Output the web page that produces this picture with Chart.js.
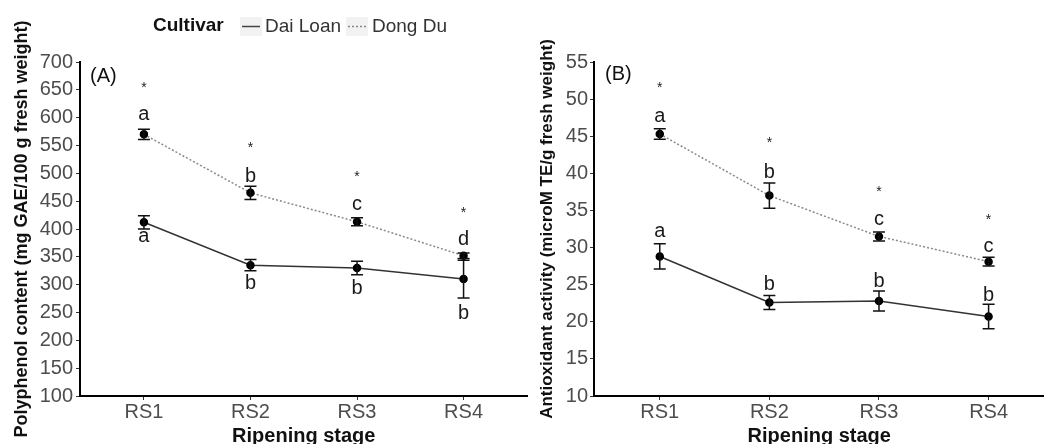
<!DOCTYPE html>
<html><head><meta charset="utf-8">
<script src="https://cdn.jsdelivr.net/npm/chart.js@4"></script>
<style>
body{margin:0;background:#fff;width:1044px;height:444px;overflow:hidden;position:relative}
#wa{position:absolute;left:0;top:0;width:533px;height:444px}
#wb{position:absolute;left:527px;top:0;width:523px;height:444px}
</style></head><body>
<div id="wa"><canvas id="ca" width="533" height="444"></canvas></div>
<div id="wb"><canvas id="cb" width="523" height="444"></canvas></div>
<script>
// ---- data ----
const stages = ['RS1','RS2','RS3','RS4'];
const seriesNames = ['Dai Loan','Dong Du'];

// Panel A: polyphenol content
const polyTicks = [100,150,200,250,300,350,400,450,500,550,600,650,700];
const polyDaiLoan = [412, 335, 330, 310];
const polyDaiLoanErr = [12, 10, 12, 34];
const polyDongDu = [570, 465, 413, 352];
const polyDongDuErr = [9, 12, 7, 5];
const polyStars = [662, 554, 501, 437];
const polyDongDuLetters = ['a','b','c','d'];
const polyDongDuLetterY = [605, 497, 443, 384];
const polyDaiLoanLetters = ['a','b','b','b'];
const polyDaiLoanLetterY = [386, 305, 296, 252];

// Panel B: antioxidant activity
const antiTicks = [10,15,20,25,30,35,40,45,50,55];
const antiDaiLoan = [28.8, 22.6, 22.8, 20.7];
const antiDaiLoanErr = [1.7, 0.95, 1.35, 1.65];
const antiDongDu = [45.3, 37.0, 31.5, 28.1];
const antiDongDuErr = [0.7, 1.7, 0.6, 0.6];
const antiStars = [52.1, 44.7, 38.1, 34.4];
const antiDongDuLetters = ['a','b','c','c'];
const antiDongDuLetterY = [47.6, 40.4, 33.7, 30.1];
const antiDaiLoanLetters = ['a','b','b','b'];
const antiDaiLoanLetterY = [32.1, 25.2, 25.6, 23.8];

// ---- drawing ----
const FAM = '"Liberation Sans", Arial, sans-serif';
const toXY = arr => arr.map((v,i)=>({x:i+1, y:v}));

function annotPlugin(p){
  return {
    id:'annot'+p.label,
    afterDatasetsDraw(chart){
      const ctx = chart.ctx, xs = chart.scales.x, ys = chart.scales.y;
      ctx.save();
      // error bars
      ctx.strokeStyle = '#111'; ctx.lineWidth = 1.5;
      [[p.dl,p.dlErr],[p.dd,p.ddErr]].forEach(([vals,errs])=>{
        vals.forEach((v,i)=>{
          const x = xs.getPixelForValue(i+1);
          const y1 = ys.getPixelForValue(v+errs[i]), y2 = ys.getPixelForValue(v-errs[i]);
          ctx.beginPath();
          ctx.moveTo(x,y1); ctx.lineTo(x,y2);
          ctx.moveTo(x-6,y1); ctx.lineTo(x+6,y1);
          ctx.moveTo(x-6,y2); ctx.lineTo(x+6,y2);
          ctx.stroke();
        });
      });
      // letters
      const LF = 20;
      ctx.fillStyle = '#1a1a1a'; ctx.textAlign='center'; ctx.textBaseline='alphabetic';
      ctx.font = LF+'px '+FAM;
      const drawLetters = (letters, ys_) => letters.forEach((L,i)=>{
        const x = xs.getPixelForValue(i+1);
        const off = (L==='b'||L==='d') ? 0.36*LF : 0.26*LF;
        ctx.fillText(L, x, ys.getPixelForValue(ys_[i]) + off);
      });
      drawLetters(p.ddL, p.ddLY);
      drawLetters(p.dlL, p.dlLY);
      // stars
      ctx.font = '14px '+FAM; ctx.fillStyle='#222';
      p.stars.forEach((v,i)=>{
        ctx.fillText('*', xs.getPixelForValue(i+1), ys.getPixelForValue(v) + 0.62*14);
      });
      // panel label
      ctx.font = '20px '+FAM; ctx.fillStyle='#111'; ctx.textAlign='left'; ctx.textBaseline='middle';
      ctx.fillText(p.label, chart.chartArea.left + p.labelDx, p.labelY);
      // legend
      if (p.legend){
        ctx.textBaseline='middle';
        ctx.font = 'bold 19px '+FAM; ctx.fillStyle='#111';
        ctx.fillText('Cultivar', 153, 26);
        ctx.fillStyle='#f2f2f2';
        ctx.fillRect(240,17,22,19); ctx.fillRect(346,17,22,19);
        ctx.lineWidth=1.5;
        ctx.strokeStyle='#444'; ctx.setLineDash([]);
        ctx.beginPath(); ctx.moveTo(242,26.5); ctx.lineTo(260,26.5); ctx.stroke();
        ctx.strokeStyle='#888'; ctx.setLineDash([2,2]);
        ctx.beginPath(); ctx.moveTo(348,26.5); ctx.lineTo(366,26.5); ctx.stroke();
        ctx.setLineDash([]);
        ctx.font = '19px '+FAM; ctx.fillStyle='#333';
        ctx.fillText(seriesNames[0], 265, 27);
        ctx.fillText(seriesNames[1], 372, 27);
      }
      ctx.restore();
    }
  };
}

function makeChart(id, c){
  return new Chart(document.getElementById(id), {
    type:'line',
    data:{datasets:[
      {label:seriesNames[0], data:toXY(c.dl), borderColor:'#333', borderWidth:1.5,
       pointRadius:3.5, pointBackgroundColor:'#000', pointBorderColor:'#000', tension:0},
      {label:seriesNames[1], data:toXY(c.dd), borderColor:'#8a8a8a', borderWidth:1.5, borderDash:[2,2],
       pointRadius:3.5, pointBackgroundColor:'#000', pointBorderColor:'#000', tension:0}
    ]},
    options:{
      responsive:false, devicePixelRatio:1, animation:false,
      layout:{padding:{top:62,left:0,right:0,bottom:0}},
      plugins:{legend:{display:false}, tooltip:{enabled:false}},
      scales:{
        x:{type:'linear', min:0.4, max:c.xmax,
          afterBuildTicks:s=>{ s.ticks = stages.map((_,i)=>({value:i+1})); },
          ticks:{callback:v=>stages[Math.round(v)-1], color:'#4d4d4d', font:{size:20,family:FAM}, padding:0, maxRotation:0, autoSkip:false},
          grid:{drawOnChartArea:false, drawTicks:true, tickLength:4, color:'#333'},
          border:{display:true, color:'#000', width:2},
          title:{display:true, text:'Ripening stage', color:'#111', font:{size:20, weight:'bold', family:FAM, lineHeight:0.8}, padding:{top:0,bottom:0}},
          afterFit:s=>{ s.height = 48; }
        },
        y:{type:'linear', min:c.ticks[0], max:c.ticks[c.ticks.length-1],
          afterBuildTicks:s=>{ s.ticks = c.ticks.map(v=>({value:v})); },
          ticks:{color:'#4d4d4d', font:{size:20,family:FAM}, padding:c.tpad, autoSkip:false},
          grid:{drawOnChartArea:false, drawTicks:true, tickLength:4, color:'#333'},
          border:{display:true, color:'#000', width:2},
          title:{display:true, text:c.ytitle, color:'#111', font:{size:c.tsize, weight:'bold', family:FAM, lineHeight:1.2}, padding:{top:c.titlePad,bottom:0}},
          afterFit:s=>{ s.width = c.yw; }
        }
      }
    },
    plugins:[annotPlugin(c.annot)]
  });
}

makeChart('ca', {
  dl:polyDaiLoan, dd:polyDongDu, ticks:polyTicks, xmax:4.6, yw:80, tpad:3, tsize:18, titlePad:11,
  ytitle:'Polyphenol content (mg GAE/100 g fresh weight)',
  annot:{label:'(A)', labelDx:10, labelY:76, legend:true,
    dl:polyDaiLoan, dlErr:polyDaiLoanErr, dd:polyDongDu, ddErr:polyDongDuErr,
    stars:polyStars, ddL:polyDongDuLetters, ddLY:polyDongDuLetterY, dlL:polyDaiLoanLetters, dlLY:polyDaiLoanLetterY}
});
makeChart('cb', {
  dl:antiDaiLoan, dd:antiDongDu, ticks:antiTicks, xmax:4.51, yw:67, tpad:2, tsize:17, titlePad:10,
  ytitle:'Antioxidant activity (microM TE/g fresh weight)',
  annot:{label:'(B)', labelDx:11, labelY:74, legend:false,
    dl:antiDaiLoan, dlErr:antiDaiLoanErr, dd:antiDongDu, ddErr:antiDongDuErr,
    stars:antiStars, ddL:antiDongDuLetters, ddLY:antiDongDuLetterY, dlL:antiDaiLoanLetters, dlLY:antiDaiLoanLetterY}
});
</script>
</body></html>
